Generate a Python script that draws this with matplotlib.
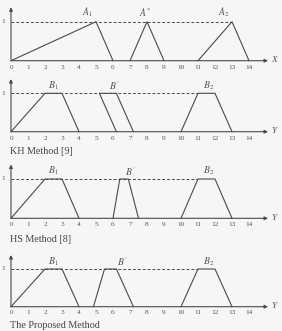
import matplotlib
matplotlib.use("Agg")
import matplotlib.pyplot as plt

plt.rcParams["mathtext.fontset"] = "stix"

# ---- data ----
ticks = list(range(0, 15))
tick_labels_top = ["0", "1", "2", "3", "4", "5", "6", "7", "8", "9", "10", "11", "12", "13", "14"]

A1 = ([0, 5, 6], [0, 1, 0])
A_star = ([7, 8, 9], [0, 1, 0])
A2 = ([11, 13, 14], [0, 1, 0])

B1 = ([0, 2, 3, 4], [0, 1, 1, 0])
B2 = ([10, 11, 12, 13], [0, 1, 1, 0])

B_kh = ([6.2, 5.2, 6.2, 7.2], [0, 1, 1, 0])
B_hs = ([6.0, 6.4, 6.9, 7.5], [0, 1, 1, 0])
B_prop = ([4.85, 5.5, 6.2, 7.2], [0, 1, 1, 0])

method_names = ["KH Method [9]", "HS Method [8]", "The Proposed Method"]

# ---- layout ----
W, H = 282, 331
bg = "#f6f6f6"
lc = "#4a4a4a"
fig = plt.figure(figsize=(W / 100, H / 100), dpi=100, facecolor=bg)
serif = ["Liberation Serif", "DejaVu Serif"]

def xr(p):
    return (p - 11) / 17.0

# panels: (top px, bottom px, baseline px, level1 px)
panels = [
    (0, 75, 60.7, 21.7),
    (75, 160, 131.7, 93.3),
    (160, 245, 218.3, 179.0),
    (245, 331, 306.7, 269.0),
]

axes = []
for (tp, bp, base, lvl) in panels:
    ax = fig.add_axes([0, 1 - bp / H, 1, (bp - tp) / H])
    unit = base - lvl
    ax.set_xlim(xr(0), xr(W))
    ax.set_ylim((base - bp) / unit, (base - tp) / unit)
    ax.axis("off")
    ax.patch.set_alpha(0)
    axes.append(ax)

def draw_frame(ax, label, dash_end):
    ax.annotate("", xy=(xr(268), 0), xytext=(0, 0),
                arrowprops=dict(arrowstyle="-|>", color=lc, lw=0.8,
                                mutation_scale=5, shrinkA=0, shrinkB=0))
    ax.annotate("", xy=(0, 1.37), xytext=(0, 0),
                arrowprops=dict(arrowstyle="-|>", color=lc, lw=0.8,
                                mutation_scale=5, shrinkA=0, shrinkB=0))
    ax.plot([0, dash_end], [1, 1], ls=(0, (3, 2)), color=lc, lw=0.7)
    for t, tl in zip(ticks, tick_labels_top):
        ax.text(t, -0.1, tl, ha="center", va="top", fontsize=5.2,
                family=serif, color="#555555")
    ax.text(xr(3), 1, "1", ha="center", va="center", fontsize=5.2,
            family=serif, color="#555555")
    ax.text(xr(274), 0.02, label, ha="center", va="center", fontsize=6.5,
            family=serif, style="italic", color="#555555")

def shape(ax, s):
    ax.plot(s[0], s[1], color=lc, lw=0.8)

# panel 1
ax = axes[0]
draw_frame(ax, "X", 13)
for s in (A1, A_star, A2):
    shape(ax, s)
ax.text(4.5, 1.23, r"$A_1$", ha="center", va="center", fontsize=7, color="#555555")
ax.text(7.9, 1.23, r"$A^{*}$", ha="center", va="center", fontsize=7, color="#555555")
ax.text(12.5, 1.23, r"$A_2$", ha="center", va="center", fontsize=7, color="#555555")

Bs = [B_kh, B_hs, B_prop]
bpos = [6.1, 7.0, 6.55]
for i, ax in enumerate(axes[1:]):
    draw_frame(ax, "Y", 11)
    shape(ax, B1)
    shape(ax, B2)
    shape(ax, Bs[i])
    ax.text(2.5, 1.2, r"$B_1$", ha="center", va="center", fontsize=7, color="#555555")
    ax.text(bpos[i], 1.2, r"$B'$", ha="center", va="center", fontsize=7, color="#555555")
    ax.text(11.6, 1.2, r"$B_2$", ha="center", va="center", fontsize=7, color="#555555")

# method labels (px positions)
for name, ypx in zip(method_names, [151, 240, 325]):
    fig.text(10 / W, 1 - ypx / H, name, ha="left", va="center", fontsize=7.3,
             family=serif, color="#444444")

fig.savefig("out.png", dpi=100, facecolor=bg)
